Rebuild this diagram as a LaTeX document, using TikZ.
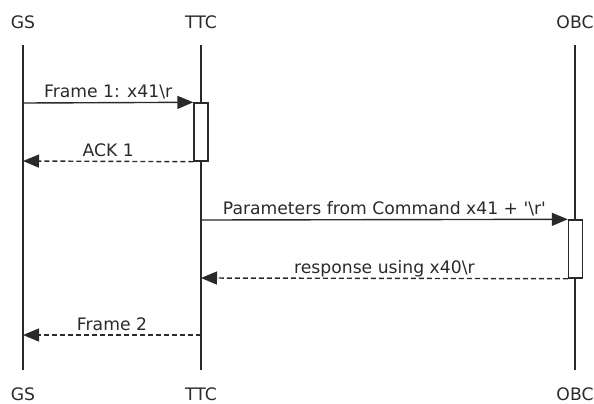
\documentclass[tikz,border=0pt]{standalone}
\usepackage{fontspec}
\setmainfont{DejaVu Sans}
\usetikzlibrary{arrows.meta}
\definecolor{ink}{HTML}{2A2A2A}
\begin{document}
\begin{tikzpicture}[x=0.5pt,y=-0.5pt,
  font=\fontsize{8.6}{10}\selectfont,
  every node/.style={text=ink},
  actor/.style={anchor=base, inner sep=0pt},
  lifeline/.style={draw=ink, line width=0.7pt},
  activation/.style={draw=ink, fill=white, line width=0.7pt,
    minimum width=7pt, minimum height=29pt, inner sep=0pt},
  msg/.style={draw=ink, line width=0.7pt, -{Triangle[length=8pt,width=6.5pt]}},
  reply/.style={msg, dash pattern=on 2.5pt off 1.5pt},
  msglabel/.style={midway, anchor=base, inner sep=0pt, yshift=2.5pt}]
\useasboundingbox (0,0) rectangle (594,403);

% participants, top and bottom
\node[actor] (gsHead)  at (23,28)  {GS};
\node[actor] (ttcHead) at (201,28) {TTC};
\node[actor] (obcHead) at (575,28) {OBC};
\node[actor] (gsFoot)  at (23,400)  {GS};
\node[actor] (ttcFoot) at (201,400) {TTC};
\node[actor] (obcFoot) at (575,400) {OBC};

% lifelines
\coordinate (gsTop)  at (23,45);  \coordinate (gsBot)  at (23,370);
\coordinate (ttcTop) at (201,45); \coordinate (ttcBot) at (201,370);
\coordinate (obcTop) at (575,45); \coordinate (obcBot) at (575,370);
\draw[lifeline] (gsTop) -- (gsBot);
\draw[lifeline] (ttcTop) -- (ttcBot);
\draw[lifeline] (obcTop) -- (obcBot);

% activation bars
\node[activation] (ttcAct) at (201,132) {};
\node[activation] (obcAct) at (575.5,249) {};

% message anchors on the lifelines
\coordinate (gsFrame1) at (23,103);
\coordinate (gsAck)    at (23,161);
\coordinate (ttcParam) at (201,220);
\coordinate (ttcResp)  at (201,278);
\coordinate (ttcFrame2) at (201,335);
\coordinate (gsFrame2) at (23,335);

% messages
\draw[msg] (gsFrame1) -- (ttcAct.north west)
  node[msglabel] (lblFrame1) {Frame 1: x41\textbackslash r};
\draw[reply] (ttcAct.south west) -- (gsAck)
  node[msglabel] (lblAck) {ACK 1};
\draw[msg] (ttcParam) -- (obcAct.north west)
  node[msglabel] (lblParam) {Parameters from Command x41 + \textquotesingle\textbackslash r\textquotesingle};
\draw[reply] (obcAct.south west) -- (ttcResp)
  node[msglabel] (lblResp) {response using x40\textbackslash r};
\draw[reply] (ttcFrame2) -- (gsFrame2)
  node[msglabel] (lblFrame2) {Frame 2};
\end{tikzpicture}
\end{document}
